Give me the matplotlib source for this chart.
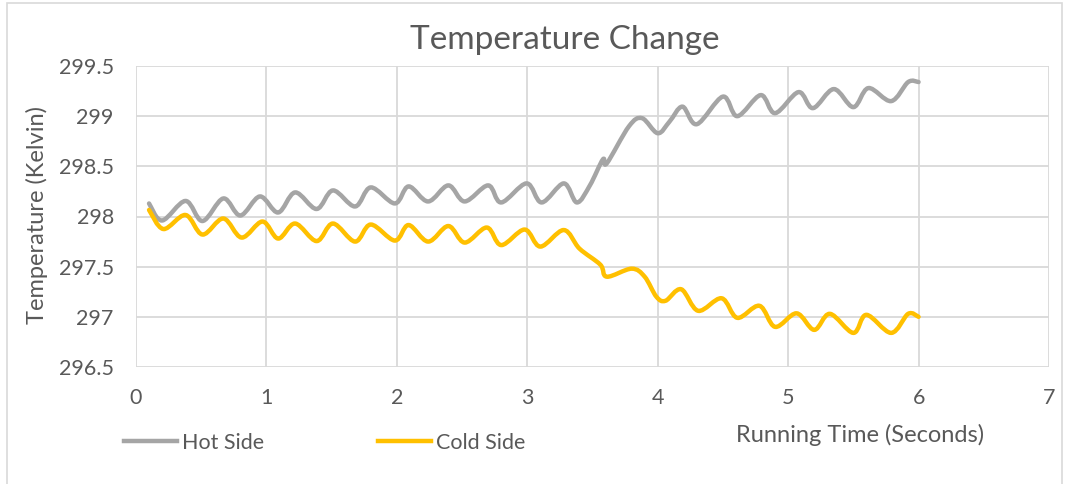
import numpy as np
import matplotlib
matplotlib.use("Agg")
import matplotlib.pyplot as plt
from matplotlib.path import Path
from matplotlib.patches import PathPatch, Rectangle
from matplotlib.lines import Line2D

# values (time in s, temperature in K)
hot_x = [0.1, 0.2, 0.38, 0.51, 0.67, 0.8, 0.95, 1.09, 1.22, 1.385, 1.51, 1.68, 1.8,
         1.985, 2.09, 2.24, 2.395, 2.52, 2.7, 2.8, 2.995, 3.11, 3.28, 3.38, 3.48,
         3.58, 3.61, 3.78, 3.88, 4.0, 4.09, 4.19, 4.3, 4.5, 4.61, 4.79, 4.9, 5.08,
         5.19, 5.35, 5.5, 5.615, 5.79, 5.92, 6.0]
hot_y = [298.13, 297.96, 298.155, 297.955, 298.18, 298.01, 298.2, 298.04, 298.24,
         298.075, 298.26, 298.1, 298.29, 298.13, 298.3, 298.15, 298.31, 298.15,
         298.31, 298.14, 298.33, 298.14, 298.33, 298.14, 298.31, 298.57, 298.53,
         298.9, 298.98, 298.83, 298.945, 299.095, 298.92, 299.195, 299.0, 299.21,
         299.03, 299.24, 299.08, 299.27, 299.09, 299.28, 299.15, 299.34, 299.34]

cold_x = [0.1, 0.21, 0.38, 0.51, 0.67, 0.81, 0.97, 1.09, 1.22, 1.385, 1.51, 1.68, 1.8,
          1.985, 2.09, 2.24, 2.395, 2.52, 2.69, 2.8, 2.98, 3.1, 3.28, 3.4, 3.56, 3.61,
          3.8, 3.9, 3.99, 4.06, 4.18, 4.31, 4.49, 4.61, 4.78, 4.9, 5.065, 5.2, 5.32,
          5.5, 5.6, 5.79, 5.92, 6.0]
cold_y = [298.065, 297.875, 298.015, 297.82, 297.98, 297.79, 297.95, 297.78, 297.93,
          297.755, 297.93, 297.75, 297.92, 297.76, 297.915, 297.75, 297.905, 297.74,
          297.89, 297.715, 297.87, 297.7, 297.865, 297.68, 297.52, 297.4, 297.48,
          297.4, 297.2, 297.16, 297.275, 297.06, 297.185, 296.99, 297.11, 296.9,
          297.035, 296.87, 297.03, 296.84, 297.02, 296.84, 297.03, 297.0]

x_ticks = [0, 1, 2, 3, 4, 5, 6, 7]
y_ticks = [296.5, 297, 297.5, 298, 298.5, 299, 299.5]
y_tick_labels = ["296.5", "297", "297.5", "298", "298.5", "299", "299.5"]

HOT = "#A5A5A5"
COLD = "#FFC000"
TXT = "#595959"
GRID = "#D9D9D9"

plt.rcParams["font.family"] = ["Lato", "DejaVu Sans"]


def smooth_path(xs, ys):
    # excel style smoothed line: cubic bezier through every point
    pts = np.column_stack([xs, ys])
    n = len(pts)
    verts = [pts[0]]
    codes = [Path.MOVETO]
    for i in range(n - 1):
        p0 = pts[max(i - 1, 0)]
        p1 = pts[i]
        p2 = pts[i + 1]
        p3 = pts[min(i + 2, n - 1)]
        verts += [p1 + (p2 - p0) / 6.0, p2 - (p3 - p1) / 6.0, p2]
        codes += [Path.CURVE4] * 3
    return Path(verts, codes)


W, H = 1067, 484
fig = plt.figure(figsize=(W / 100, H / 100), dpi=100)
ax = fig.add_axes([136 / W, 1 - 367 / H, (1049 - 136) / W, (367 - 66) / H])

ax.set_xlim(0, 7)
ax.set_ylim(296.5, 299.5)
ax.set_xticks(x_ticks)
ax.set_yticks(y_ticks)
ax.set_yticklabels(y_tick_labels)
ax.grid(True, color=GRID, lw=1.3)
ax.set_axisbelow(True)
for s in ax.spines.values():
    s.set_visible(False)
ax.tick_params(length=0, labelsize=15.5, labelcolor=TXT)
ax.tick_params(axis="y", pad=16)
ax.tick_params(axis="x", pad=15)

for xs, ys, c in [(hot_x, hot_y, HOT), (cold_x, cold_y, COLD)]:
    ax.add_patch(PathPatch(smooth_path(xs, ys), facecolor="none", edgecolor=c,
                           lw=3.2, capstyle="round", joinstyle="round"))

fig.text(565 / W, 1 - 40 / H, "Temperature Change", ha="center", va="center",
         fontsize=24, color=TXT)
fig.text(37 / W, 1 - 215 / H, "Temperature (Kelvin)", ha="center", va="center",
         rotation=90, fontsize=17, color=TXT)
fig.text(860 / W, 1 - 435 / H, "Running Time (Seconds)", ha="center", va="center",
         fontsize=17, color=TXT)

handles = [Line2D([], [], color=HOT, lw=3.2), Line2D([], [], color=COLD, lw=3.2)]
fig.legend(handles, ["Hot Side", "Cold Side"], loc="center left",
           bbox_to_anchor=(124 / W, 1 - 443 / H), ncol=2, frameon=False,
           fontsize=15.5, labelcolor=TXT, handlelength=2.45, handletextpad=0.25,
           columnspacing=5.3, borderpad=0, borderaxespad=0)

# light chart border
fig.patches.append(Rectangle((7 / W, -0.01), (1062 - 7) / W, 1 - 3 / H + 0.01,
                             transform=fig.transFigure, fill=False,
                             edgecolor=GRID, lw=1.2))

fig.savefig("out.png", dpi=100)
